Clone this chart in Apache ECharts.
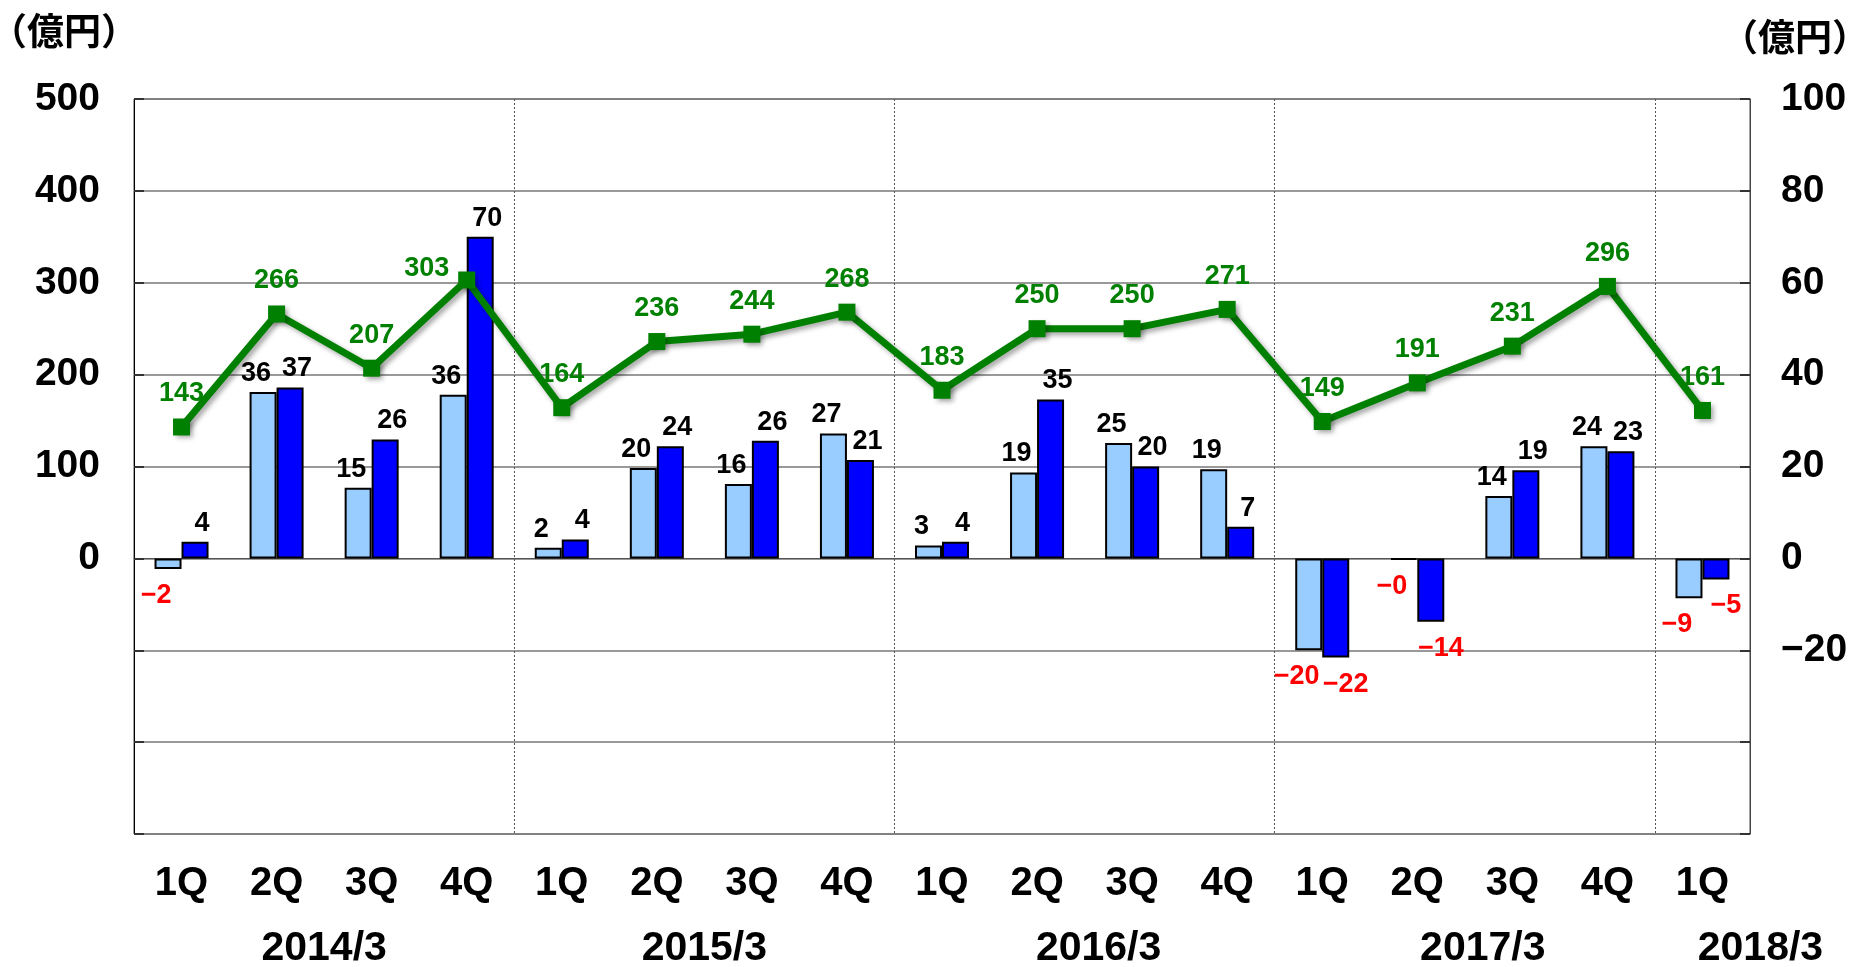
<!DOCTYPE html>
<html><head><meta charset="utf-8">
<script src="https://cdn.jsdelivr.net/npm/echarts@6/dist/echarts.min.js"></script>
<style>html,body{margin:0;padding:0;background:#fff}#c{width:1853px;height:967px}</style>
</head><body><div id="c"></div>
<script>
// ---- data ----
const categories = ['1Q','2Q','3Q','4Q','1Q','2Q','3Q','4Q','1Q','2Q','3Q','4Q','1Q','2Q','3Q','4Q','1Q'];
const fiscalYears = ['2014/3','2015/3','2016/3','2017/3','2018/3'];
const quartersPerYear = [4,4,4,4,1];
const lineValues = [143,266,207,303,164,236,244,268,183,250,250,271,149,191,231,296,161];
const lightBarValues = [-2.3,36.2,15.4,35.6,2.3,19.7,16.2,27.2,2.8,18.7,25.1,19.4,-20,-0.3,13.6,24.4,-8.7];
const darkBarValues = [3.6,37.2,25.9,70,4.1,24.4,25.6,21.4,3.6,34.6,20,6.9,-21.6,-13.8,19.2,23.3,-4.6];
const leftAxisTicks = [-300,-200,-100,0,100,200,300,400,500];
const rightAxisTicks = [-60,-40,-20,0,20,40,60,80,100];
const leftLabelMin = 0, rightLabelMin = -20;
const unitLabel = '（億円）';

// ---- chart ----
const NUM_FONT = '"Liberation Sans", Arial, sans-serif';
const chart = echarts.init(document.getElementById('c'), null, {renderer:'canvas'});
function fmt(v){ const r = Math.round(Math.abs(v)); return v < 0 ? '\u2212' + r : String(r); }
function barData(vals, dx){
  return vals.map(v => ({
    value: v,
    label: v < 0
      ? {position:'bottom', color:'#FF0000', distance:13, offset:[dx < 0 ? -12 : 10, 0]}
      : {position:'top', color:'#000000', distance:5, offset:[dx, 0]}
  }));
}
const lineData = lineValues.map((v,i) => i === 3
  ? {value:v, label:{offset:[-40, 22]}}
  : {value:v});

const option = {
  animation:false,
  backgroundColor:'#ffffff',
  grid:{left:134, right:103, top:99, bottom:133, containLabel:false, show:true, borderColor:'#444', borderWidth:1},
  xAxis:{
    type:'category', data:categories, boundaryGap:true,
    axisLine:{show:true, lineStyle:{color:'#555', width:1}},
    axisTick:{show:false},
    axisLabel:{margin:30, fontSize:40, fontWeight:'bold', color:'#000', fontFamily:NUM_FONT, interval:0},
    splitLine:{show:true, interval:function(index){ return index > 0 && index % 4 === 0; },
      lineStyle:{color:'#555', width:1, type:[2,2]}}
  },
  yAxis:[
    {type:'value', min:leftAxisTicks[0], max:leftAxisTicks[leftAxisTicks.length-1], interval:leftAxisTicks[1]-leftAxisTicks[0],
     axisLine:{show:true, lineStyle:{color:'#000', width:1}},
     axisTick:{show:true, inside:true, length:10, lineStyle:{color:'#333', width:2}},
     axisLabel:{margin:34, fontSize:39, fontWeight:'bold', color:'#000', fontFamily:NUM_FONT,
       formatter:v => v >= leftLabelMin ? fmt(v) : ''},
     splitLine:{show:true, lineStyle:{color:'#777', width:1.5}}},
    {type:'value', min:rightAxisTicks[0], max:rightAxisTicks[rightAxisTicks.length-1], interval:rightAxisTicks[1]-rightAxisTicks[0],
     position:'right',
     axisLine:{show:true, lineStyle:{color:'#444', width:1}},
     axisTick:{show:true, inside:true, length:10, lineStyle:{color:'#333', width:2}},
     axisLabel:{margin:31, fontSize:39, fontWeight:'bold', color:'#000', fontFamily:NUM_FONT,
       formatter:v => v >= rightLabelMin ? fmt(v) : ''},
     splitLine:{show:false}}
  ],
  series:[
    {name:'light', type:'bar', yAxisIndex:1, data:barData(lightBarValues, -7), barWidth:27, barGap:'0%',
     itemStyle:{color:'#99CCFF', borderColor:'#000', borderWidth:2},
     label:{show:true, fontSize:27, fontWeight:'bold', fontFamily:NUM_FONT, formatter:p => fmt(p.value)}},
    {name:'dark', type:'bar', yAxisIndex:1, data:barData(darkBarValues, 7), barWidth:27, barGap:'0%',
     itemStyle:{color:'#0000FF', borderColor:'#000', borderWidth:2},
     label:{show:true, fontSize:27, fontWeight:'bold', fontFamily:NUM_FONT, formatter:p => fmt(p.value)}},
    {name:'line', type:'line', yAxisIndex:0, data:lineData, z:5,
     symbol:'rect', symbolSize:17,
     lineStyle:{color:'#008000', width:7, shadowColor:'rgba(0,0,0,0.35)', shadowBlur:5, shadowOffsetX:3, shadowOffsetY:3},
     itemStyle:{color:'#008000', shadowColor:'rgba(0,0,0,0.35)', shadowBlur:5, shadowOffsetX:3, shadowOffsetY:3},
     label:{show:true, position:'top', distance:11, color:'#008000', fontSize:27, fontWeight:'bold', fontFamily:NUM_FONT,
       formatter:p => fmt(p.value)}}
  ]
};
chart.setOption(option);

// year labels and unit labels
const yearDx = [0, 0, 14, 18, 58];
const graphics = [];
let start = 0;
fiscalYears.forEach((y, k) => {
  const n = quartersPerYear[k];
  const x0 = chart.convertToPixel({xAxisIndex:0}, start);
  const x1 = chart.convertToPixel({xAxisIndex:0}, start + n - 1);
  const baseY = chart.convertToPixel({yAxisIndex:0}, leftAxisTicks[0]);
  graphics.push({type:'text', x:(x0 + x1)/2 + yearDx[k], y:baseY + 115,
    style:{text:y, fill:'#000', font:'bold 41px ' + NUM_FONT, textAlign:'center', textVerticalAlign:'middle'}});
  start += n;
});
graphics.push({type:'text', x:-10, y:31, style:{text:unitLabel, fill:'#000', font:'bold 37px "Noto Sans CJK JP"', textAlign:'left', textVerticalAlign:'middle'}});
graphics.push({type:'text', x:1869, y:37, style:{text:unitLabel, fill:'#000', font:'bold 37px "Noto Sans CJK JP"', textAlign:'right', textVerticalAlign:'middle'}});
chart.setOption({graphic:graphics});
</script></body></html>
